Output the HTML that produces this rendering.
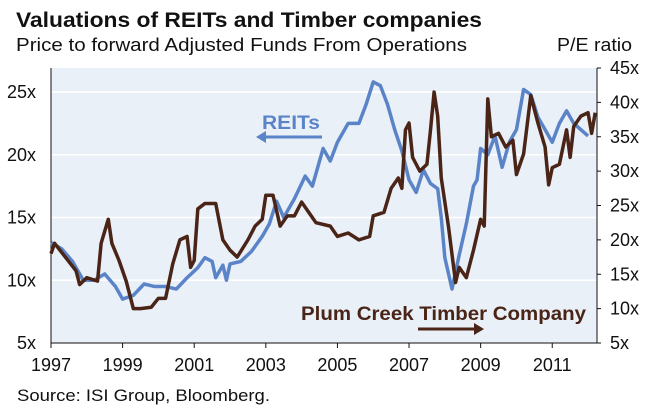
<!DOCTYPE html>
<html><head><meta charset="utf-8"><style>
body{margin:0;background:#fff;width:648px;height:412px;overflow:hidden;font-family:"Liberation Sans",sans-serif}
</style></head><body>
<svg width="648" height="412" viewBox="0 0 648 412" font-family="Liberation Sans, sans-serif">
<text x="16" y="27" font-size="21" font-weight="bold" fill="#111" textLength="466" lengthAdjust="spacingAndGlyphs">Valuations of REITs and Timber companies</text>
<text x="16" y="51" font-size="18" fill="#111" textLength="451" lengthAdjust="spacingAndGlyphs">Price to forward Adjusted Funds From Operations</text>
<text x="557" y="51" font-size="18" fill="#111" textLength="75" lengthAdjust="spacingAndGlyphs">P/E ratio</text>
<rect x="51" y="68" width="546" height="275" fill="#e9f0f7"/>
<g id="grid"></g><g id="axes"></g><g id="series"></g>
<text x="262" y="129" font-size="19" font-weight="bold" fill="#5b84c8" textLength="58" lengthAdjust="spacingAndGlyphs">REITs</text>
<g><line x1="322" y1="137" x2="264" y2="137" stroke="#5b84c8" stroke-width="3"/><polygon points="256,137 266,131 266,143" fill="#5b84c8"/></g>
<text x="301" y="320" font-size="19" font-weight="bold" fill="#4a2517" textLength="285" lengthAdjust="spacingAndGlyphs">Plum Creek Timber Company</text>
<g><line x1="418" y1="329" x2="476" y2="329" stroke="#4a2517" stroke-width="3"/><polygon points="484,329 474,323 474,335" fill="#4a2517"/></g>
<text x="17" y="401" font-size="17" fill="#111" textLength="253" lengthAdjust="spacingAndGlyphs">Source: ISI Group, Bloomberg.</text>
</svg>
<script>
const leftTicks=[5,10,15,20,25];
const leftTickLabels=["5x","10x","15x","20x","25x"];
const rightTicks=[5,10,15,20,25,30,35,40,45];
const rightTickLabels=["5x","10x","15x","20x","25x","30x","35x","40x","45x"];
const yearTicks=[1997,1999,2001,2003,2005,2007,2009,2011];
const reitsT=[1997.0,1997.3,1997.6,1997.9,1998.2,1998.5,1998.8,1999.0,1999.3,1999.6,1999.9,2000.2,2000.5,2000.8,2001.1,2001.3,2001.5,2001.6,2001.8,2001.9,2002.0,2002.3,2002.6,2002.9,2003.1,2003.3,2003.5,2003.8,2004.1,2004.3,2004.6,2004.8,2005.0,2005.3,2005.6,2005.8,2006.0,2006.2,2006.4,2006.6,2006.8,2007.0,2007.2,2007.4,2007.6,2007.8,2007.9,2008.0,2008.2,2008.4,2008.6,2008.8,2008.9,2009.0,2009.2,2009.4,2009.6,2009.8,2010.0,2010.2,2010.4,2010.6,2010.8,2011.0,2011.2,2011.4,2011.6,2011.8,2012.0];
const reitsV=[13,12.5,11.5,10,10,10.5,9.5,8.5,8.8,9.7,9.5,9.5,9.3,10.2,11,11.8,11.5,10.2,11.2,10,11.3,11.5,12.3,13.5,14.5,16.3,15,16.5,18.3,17.5,20.5,19.5,21,22.5,22.5,24,25.8,25.5,24,22,20.3,18,17,18.8,17.7,17.3,15,11.8,9.3,12,14.5,17.5,18,20.5,20,21.5,19,21,22,25.2,24.8,23,22,21,22.5,23.5,22.5,22,21.5];
const plumT=[1997.0,1997.1,1997.4,1997.7,1997.8,1998.0,1998.3,1998.4,1998.6,1998.7,1998.9,1999.1,1999.3,1999.5,1999.8,2000.0,2000.2,2000.4,2000.6,2000.8,2000.9,2001.0,2001.1,2001.3,2001.6,2001.8,2002.0,2002.2,2002.5,2002.7,2002.9,2003.0,2003.2,2003.4,2003.6,2003.8,2004.0,2004.2,2004.4,2004.8,2005.0,2005.3,2005.6,2005.9,2006.0,2006.3,2006.5,2006.7,2006.8,2006.9,2007.0,2007.1,2007.3,2007.5,2007.6,2007.7,2007.8,2007.9,2008.1,2008.3,2008.4,2008.6,2008.8,2009.0,2009.1,2009.2,2009.3,2009.5,2009.7,2009.9,2010.0,2010.2,2010.4,2010.6,2010.8,2010.9,2011.0,2011.2,2011.4,2011.5,2011.6,2011.8,2012.0,2012.1,2012.2];
const plumV=[18,19.5,17.5,15.5,13.5,14.5,14,19.5,23,19.5,17,14,10,10,10.2,11.5,11.5,16.5,20,20.5,16,17,24.5,25.3,25.3,20,18.5,17.5,20,22,23,26.5,26.5,22,23.5,23.5,25.5,24,22.5,22,20.5,21,20,20.5,23.5,24,27.5,29,27.5,36,37,32,30,31,36,41.5,38,29,22,13.8,16,14.5,18.5,23,22,40.5,35,35.5,33.5,34.5,29.5,32.5,41,37,33.5,28,30.5,31,36,32,36.5,38,38.5,35.5,38.5];
const NS='http://www.w3.org/2000/svg';
const X0=51,X1=597;
function xS(t){return X0+(t-1997)*(X1-X0)/15.25;}
function yL(v){return 343-(v-5)*(343-92)/20;}
function yR(v){return 343-(v-5)*(343-68)/40;}
function mk(tag,attrs,parent){const e=document.createElementNS(NS,tag);for(const k in attrs)e.setAttribute(k,attrs[k]);document.getElementById(parent).appendChild(e);return e;}
leftTicks.forEach((v,i)=>{
  if(v>5){const g=mk('line',{x1:X0,x2:X1,y1:yL(v),y2:yL(v),stroke:'#fff','stroke-width':1.5},'grid');
  
  }
  const t=mk('text',{x:36,y:yL(v)+6,'text-anchor':'end','font-size':18,fill:'#111'},'axes');t.textContent=leftTickLabels[i];
  
  
});
rightTicks.forEach((v,i)=>{
  mk('line',{x1:X1,x2:X1+4,y1:yR(v),y2:yR(v),stroke:'#111'},'axes');
  const t=mk('text',{x:X1+13,y:yR(v)+6,'font-size':18,fill:'#111'},'axes');t.textContent=rightTickLabels[i];
  
  
});
yearTicks.forEach(y=>{
  mk('line',{x1:xS(y),x2:xS(y),y1:343,y2:348,stroke:'#111'},'axes');
  const t=mk('text',{x:xS(y),y:371,'text-anchor':'middle','font-size':18,fill:'#111'},'axes');t.textContent=y;
  
  
});
const ax=mk('path',{d:`M${X0},68V343H${X1}V68`,fill:'none',stroke:'#111','stroke-width':1},'axes');


const r=mk('polyline',{points:reitsT.map((t,i)=>xS(t)+','+yL(reitsV[i])).join(' '),fill:'none',stroke:'#5b84c8','stroke-width':3.5,'stroke-linejoin':'round'},'series');


const p=mk('polyline',{points:plumT.map((t,i)=>xS(t)+','+yR(plumV[i])).join(' '),fill:'none',stroke:'#4a2517','stroke-width':3.5,'stroke-linejoin':'round'},'series');


</script>
</body></html>
